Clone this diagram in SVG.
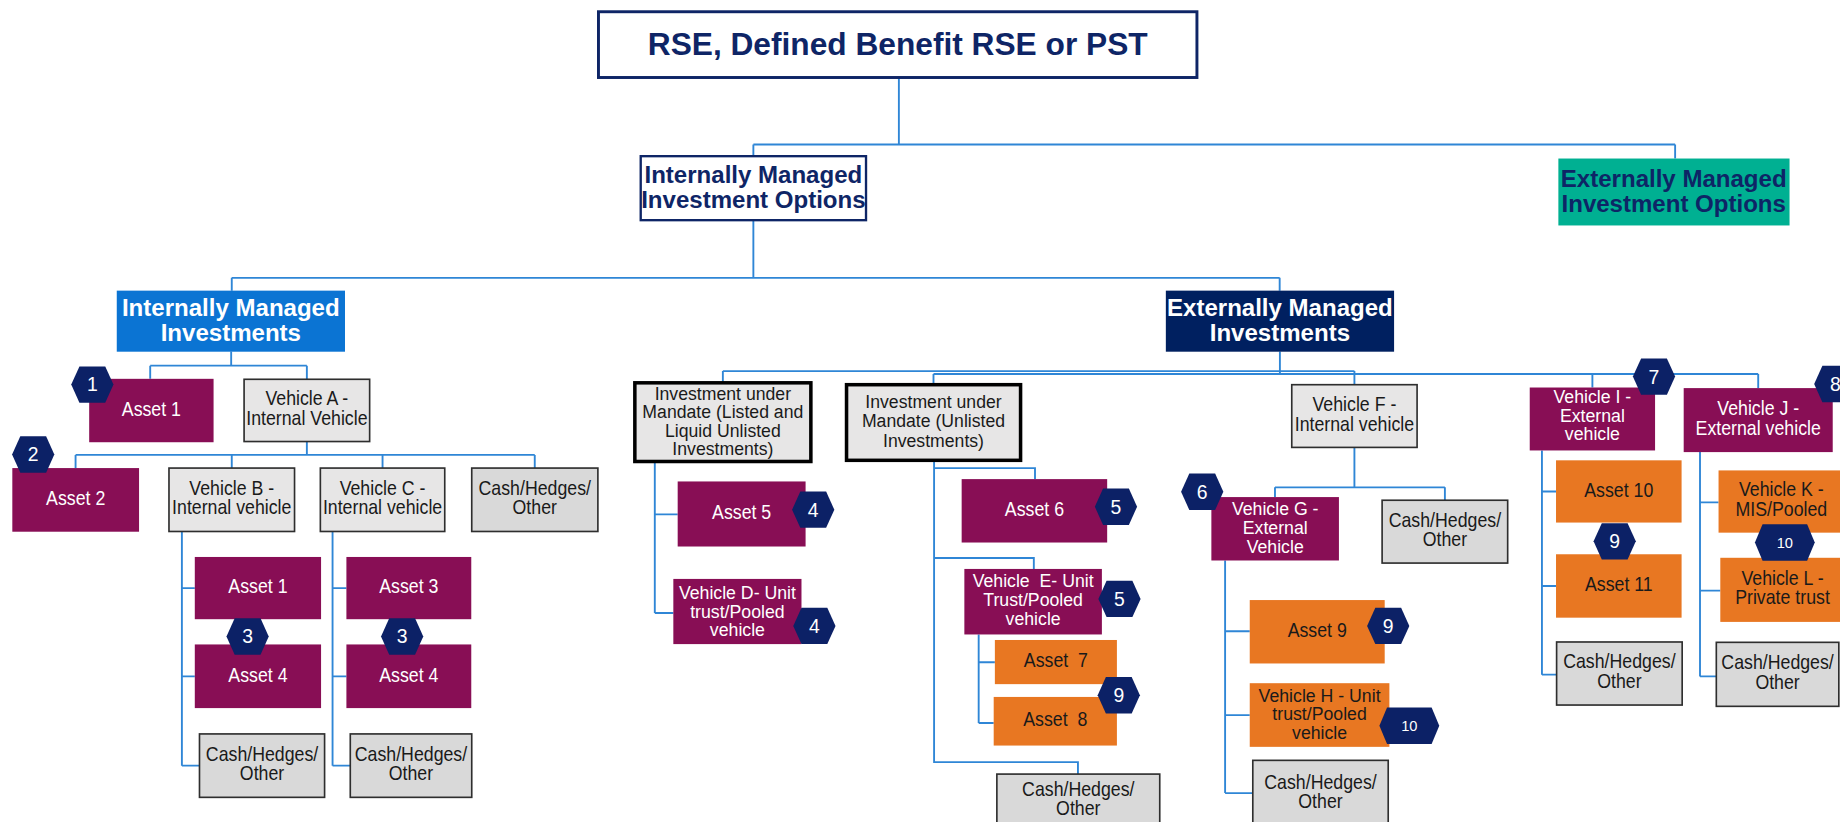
<svg xmlns="http://www.w3.org/2000/svg" xmlns:xlink="http://www.w3.org/1999/xlink" width="1840" height="822" viewBox="0 0 1840 822">
<style>
text{font-family:"Liberation Sans",Arial,sans-serif}
.c{fill:none;stroke:#2F86D6;stroke-width:1.6}
.pu{fill:#880E55}
.or{fill:#E87722}
.gy{fill:#E7E6E6;stroke:#2e2e2e;stroke-width:1.4}
.cs{fill:#D9D9D9;stroke:#2e2e2e;stroke-width:1.4}
.md{fill:#E7E6E6;stroke:#000;stroke-width:3}
.t{font-size:17px;fill:#1a1a1a;text-anchor:middle}
.t3{font-size:15.8px}
.w{fill:#fff}
.b{font-weight:bold;font-size:20.5px;text-anchor:middle}
.nv{fill:#0E2566}
.hx{fill:#0C2166}
.hn{font-size:16.5px;fill:#fff;text-anchor:middle}
.hs{font-size:12.5px;fill:#fff;text-anchor:middle}
</style>
<defs>
<polygon id="hex" class="hx" points="-18,0 -11,-15.5 11,-15.5 18,0 11,15.5 -11,15.5"/>
<polygon id="hexw" class="hx" points="-25.5,0 -19,-15.5 19,-15.5 25.5,0 19,15.5 -19,15.5"/>
</defs>
<rect width="1840" height="822" fill="#fff"/>
<g transform="scale(1.173469 1.174286)">
<g id="connectors">
<path class="c" d="M766,66.2V123M642,123H1427.5M642,123V132.7M1427.5,123V135"/>
<path class="c" d="M642,187.5V236.6M197.5,236.6H1090.5M197.5,236.6V247.5M1090.5,236.6V247.5"/>
<path class="c" d="M197,299.3V311.4M128,311.4H261.5M128,311.4V322.6M261.5,311.4V323"/>
<path class="c" d="M261.5,376V387.4M64.4,387.4H455.7M64.4,387.4V398.6M197.5,387.4V398.6M326,387.4V398.6M455.7,387.4V398.6"/>
<path class="c" d="M155,452.6V652M155,500.8H166M155,576H166M155,652H170"/>
<path class="c" d="M283.4,452.6V652M283.4,500.8H295.2M283.4,576H295.2M283.4,652H298.5"/>
<path class="c" d="M1090.7,299.3V318.5M616,316H1154.2M795.5,318.5H1498.3M616,316V326M795.5,318.5V327.6M1154.2,316V327.6M1357,318.5V330M1498.3,318.5V330.5"/>
<path class="c" d="M558,393V522M558,438H577.5M558,522H573.8"/>
<path class="c" d="M796,392V649H918.6V659.2M796,398.6H882V408M796,475.2H881V484.5"/>
<path class="c" d="M834,540.3V615.7M834,564H847.8M834,615.7H846.8"/>
<path class="c" d="M1154.2,381V415M1086.5,415H1231.3M1086.5,415V423.3M1231.3,415V426"/>
<path class="c" d="M1044,477.3V675.4M1044,537.6H1065M1044,609H1065M1044,675.4H1067.6"/>
<path class="c" d="M1314,383.6V574.5M1314,418.5H1326M1314,499H1326M1314,574.5H1326.5"/>
<path class="c" d="M1448.7,385V576M1448.7,427.8H1464.5M1448.7,503H1466M1448.7,576H1462.6"/>
</g>
<g id="n-root"><rect x="510" y="10" width="510" height="56" fill="#fff" stroke="#0E2566" stroke-width="2.5"/><text class="b nv" style="font-size:27px" x="765" y="47">RSE, Defined Benefit RSE or PST</text></g>
<g id="n-imo"><rect x="546" y="133" width="192" height="54.5" fill="#fff" stroke="#0E2566" stroke-width="2"/><text class="b nv"><tspan x="642" y="155.6">Internally Managed</tspan><tspan x="642" y="176.8">Investment Options</tspan></text></g>
<g id="n-emo"><rect x="1328" y="135" width="197" height="57" fill="#00B092"/><text class="b nv"><tspan x="1426.3" y="159">Externally Managed</tspan><tspan x="1426.3" y="180.2">Investment Options</tspan></text></g>
<g id="n-imi"><rect x="99.5" y="247.5" width="194.5" height="52" fill="#0B74D3"/><text class="b w"><tspan x="196.7" y="269">Internally Managed</tspan><tspan x="196.7" y="290.2">Investments</tspan></text></g>
<g id="n-emi"><rect x="993.5" y="247.5" width="194.5" height="52" fill="#002060"/><text class="b w"><tspan x="1090.7" y="269">Externally Managed</tspan><tspan x="1090.7" y="290.2">Investments</tspan></text></g>

<g id="n-asset1"><rect class="pu" x="76" y="322.6" width="106" height="54"/><text class="t w" transform="translate(129 0) scale(.89 1)"><tspan x="0" y="354">Asset 1</tspan></text></g>
<g id="n-vehA"><rect class="gy" x="208" y="323" width="107" height="53"/><text class="t" transform="translate(261.5 0) scale(.89 1)"><tspan x="0" y="345.2">Vehicle A -</tspan><tspan x="0" y="361.7">Internal Vehicle</tspan></text></g>
<g id="n-asset2"><rect class="pu" x="10.5" y="398.6" width="108" height="54.2"/><text class="t w" transform="translate(64.5 0) scale(.89 1)"><tspan x="0" y="430.2">Asset 2</tspan></text></g>
<g id="n-vehB"><rect class="gy" x="144" y="398.6" width="107" height="54"/><text class="t" transform="translate(197.5 0) scale(.89 1)"><tspan x="0" y="421.3">Vehicle B -</tspan><tspan x="0" y="438">Internal vehicle</tspan></text></g>
<g id="n-vehC"><rect class="gy" x="273" y="398.6" width="106" height="54"/><text class="t" transform="translate(326 0) scale(.89 1)"><tspan x="0" y="421.3">Vehicle C -</tspan><tspan x="0" y="438">Internal vehicle</tspan></text></g>
<g id="n-cashA"><rect class="cs" x="402" y="398.6" width="107.5" height="54"/><text class="t" transform="translate(455.7 0) scale(.89 1)"><tspan x="0" y="421.3">Cash/Hedges/</tspan><tspan x="0" y="438">Other</tspan></text></g>
<g id="n-B-asset1"><rect class="pu" x="166" y="474.3" width="107.6" height="53"/><text class="t w" transform="translate(219.8 0) scale(.89 1)"><tspan x="0" y="505.3">Asset 1</tspan></text></g>
<g id="n-B-asset4"><rect class="pu" x="166" y="548.8" width="107.6" height="54.2"/><text class="t w" transform="translate(219.8 0) scale(.89 1)"><tspan x="0" y="580.4">Asset 4</tspan></text></g>
<g id="n-B-cash"><rect class="cs" x="170" y="625" width="106.6" height="54"/><text class="t" transform="translate(223.3 0) scale(.89 1)"><tspan x="0" y="647.7">Cash/Hedges/</tspan><tspan x="0" y="664.4">Other</tspan></text></g>
<g id="n-C-asset3"><rect class="pu" x="295.2" y="474.3" width="106.4" height="53"/><text class="t w" transform="translate(348.4 0) scale(.89 1)"><tspan x="0" y="505.3">Asset 3</tspan></text></g>
<g id="n-C-asset4"><rect class="pu" x="295.2" y="548.8" width="106.4" height="54.2"/><text class="t w" transform="translate(348.4 0) scale(.89 1)"><tspan x="0" y="580.4">Asset 4</tspan></text></g>
<g id="n-C-cash"><rect class="cs" x="298.5" y="625" width="103.5" height="54"/><text class="t" transform="translate(350.2 0) scale(.89 1)"><tspan x="0" y="647.7">Cash/Hedges/</tspan><tspan x="0" y="664.4">Other</tspan></text></g>

<g id="n-listed"><rect class="md" x="541" y="326" width="150" height="67"/><text class="t" style="font-size:15.2px" transform="translate(616 0) scale(.99 1)"><tspan x="0" y="340.3">Investment under</tspan><tspan x="0" y="356.2">Mandate (Listed and</tspan><tspan x="0" y="371.9">Liquid Unlisted</tspan><tspan x="0" y="387.4">Investments)</tspan></text></g>
<g id="n-unlisted"><rect class="md" x="721.4" y="327.6" width="148.3" height="64.4"/><text class="t" style="font-size:16px" transform="translate(795.5 0) scale(.94 1)"><tspan x="0" y="347.7">Investment under</tspan><tspan x="0" y="364">Mandate (Unlisted</tspan><tspan x="0" y="380.3">Investments)</tspan></text></g>
<g id="n-asset5"><rect class="pu" x="577.5" y="410" width="109" height="55.4"/><text class="t w" transform="translate(632 0) scale(.89 1)"><tspan x="0" y="442.2">Asset 5</tspan></text></g>
<g id="n-vehD"><rect class="pu" x="573.8" y="493" width="109.2" height="55.5"/><text class="t t3 w" transform="translate(628.4 0) scale(.955 1)"><tspan x="0" y="510">Vehicle D- Unit</tspan><tspan x="0" y="526">trust/Pooled</tspan><tspan x="0" y="542">vehicle</tspan></text></g>
<g id="n-asset6"><rect class="pu" x="819.5" y="408" width="124" height="54"/><text class="t w" transform="translate(881.5 0) scale(.89 1)"><tspan x="0" y="439.5">Asset 6</tspan></text></g>
<g id="n-vehE"><rect class="pu" x="821.8" y="484.5" width="117.2" height="55.8"/><text class="t t3 w" xml:space="preserve" transform="translate(880.4 0) scale(.955 1)"><tspan x="0" y="499.9">Vehicle  E- Unit</tspan><tspan x="0" y="515.9">Trust/Pooled</tspan><tspan x="0" y="531.9">vehicle</tspan></text></g>
<g id="n-asset7"><rect class="or" x="847.8" y="545" width="104" height="37.6"/><text class="t" xml:space="preserve" transform="translate(899.8 0) scale(.89 1)"><tspan x="0" y="568">Asset  7</tspan></text></g>
<g id="n-asset8"><rect class="or" x="846.8" y="593.5" width="105" height="41.4"/><text class="t" xml:space="preserve" transform="translate(899.3 0) scale(.89 1)"><tspan x="0" y="618.6">Asset  8</tspan></text></g>
<g id="n-U-cash"><rect class="cs" x="849.5" y="659.2" width="138.8" height="46"/><text class="t" transform="translate(918.9 0) scale(.89 1)"><tspan x="0" y="677.5">Cash/Hedges/</tspan><tspan x="0" y="693.7">Other</tspan></text></g>

<g id="n-vehF"><rect class="gy" x="1100.8" y="327.6" width="106.8" height="53.4"/><text class="t" transform="translate(1154.2 0) scale(.89 1)"><tspan x="0" y="350">Vehicle F -</tspan><tspan x="0" y="366.7">Internal vehicle</tspan></text></g>
<g id="n-vehG"><rect class="pu" x="1032.3" y="423.3" width="108.7" height="54"/><text class="t t3 w" transform="translate(1086.7 0) scale(.955 1)"><tspan x="0" y="438.9">Vehicle G -</tspan><tspan x="0" y="454.9">External</tspan><tspan x="0" y="470.9">Vehicle</tspan></text></g>
<g id="n-F-cash"><rect class="cs" x="1177.8" y="426" width="107" height="53.5"/><text class="t" transform="translate(1231.3 0) scale(.89 1)"><tspan x="0" y="448.4">Cash/Hedges/</tspan><tspan x="0" y="465.1">Other</tspan></text></g>
<g id="n-asset9"><rect class="or" x="1065" y="511" width="115" height="54"/><text class="t" transform="translate(1122.5 0) scale(.89 1)"><tspan x="0" y="542.5">Asset 9</tspan></text></g>
<g id="n-vehH"><rect class="or" x="1065" y="581.8" width="119" height="54.2"/><text class="t t3" transform="translate(1124.5 0) scale(.955 1)"><tspan x="0" y="597.4">Vehicle H - Unit</tspan><tspan x="0" y="613.4">trust/Pooled</tspan><tspan x="0" y="629.4">vehicle</tspan></text></g>
<g id="n-G-cash"><rect class="cs" x="1067.6" y="647.5" width="115.4" height="55"/><text class="t" transform="translate(1125.3 0) scale(.89 1)"><tspan x="0" y="671.5">Cash/Hedges/</tspan><tspan x="0" y="688.2">Other</tspan></text></g>

<g id="n-vehI"><rect class="pu" x="1303.6" y="330" width="106.8" height="53.6"/><text class="t t3 w" transform="translate(1357 0) scale(.955 1)"><tspan x="0" y="343">Vehicle I -</tspan><tspan x="0" y="359">External</tspan><tspan x="0" y="375">vehicle</tspan></text></g>
<g id="n-asset10"><rect class="or" x="1326" y="392" width="107" height="53"/><text class="t" transform="translate(1379.5 0) scale(.89 1)"><tspan x="0" y="423">Asset 10</tspan></text></g>
<g id="n-asset11"><rect class="or" x="1326" y="472" width="107" height="54"/><text class="t" transform="translate(1379.5 0) scale(.89 1)"><tspan x="0" y="503.5">Asset 11</tspan></text></g>
<g id="n-I-cash"><rect class="cs" x="1326.5" y="546.7" width="107" height="53.7"/><text class="t" transform="translate(1380 0) scale(.89 1)"><tspan x="0" y="569.2">Cash/Hedges/</tspan><tspan x="0" y="585.9">Other</tspan></text></g>
<g id="n-vehJ"><rect class="pu" x="1434.8" y="330.5" width="127" height="54.5"/><text class="t w" transform="translate(1498.3 0) scale(.89 1)"><tspan x="0" y="353.5">Vehicle J -</tspan><tspan x="0" y="370.2">External vehicle</tspan></text></g>
<g id="n-vehK"><rect class="or" x="1464.5" y="400.6" width="107" height="53"/><text class="t" transform="translate(1518 0) scale(.89 1)"><tspan x="0" y="422.7">Vehicle K -</tspan><tspan x="0" y="439.5">MIS/Pooled</tspan></text></g>
<g id="n-vehL"><rect class="or" x="1466" y="475" width="106" height="54.6"/><text class="t" transform="translate(1519 0) scale(.89 1)"><tspan x="0" y="498">Vehicle L -</tspan><tspan x="0" y="514.7">Private trust</tspan></text></g>
<g id="n-J-cash"><rect class="cs" x="1462.6" y="547" width="104.4" height="54.5"/><text class="t" transform="translate(1514.8 0) scale(.89 1)"><tspan x="0" y="570">Cash/Hedges/</tspan><tspan x="0" y="586.7">Other</tspan></text></g>

<g id="badge-1"><use href="#hex" xlink:href="#hex" x="78.7" y="327.5"/><text class="hn" x="78.7" y="333.4">1</text></g>
<g id="badge-2"><use href="#hex" xlink:href="#hex" x="28.3" y="387"/><text class="hn" x="28.3" y="392.9">2</text></g>
<g id="badge-3a"><use href="#hex" xlink:href="#hex" x="211" y="542"/><text class="hn" x="211" y="547.9">3</text></g>
<g id="badge-3b"><use href="#hex" xlink:href="#hex" x="342.7" y="542"/><text class="hn" x="342.7" y="547.9">3</text></g>
<g id="badge-4a"><use href="#hex" xlink:href="#hex" x="693" y="434"/><text class="hn" x="693" y="439.9">4</text></g>
<g id="badge-4b"><use href="#hex" xlink:href="#hex" x="694" y="533"/><text class="hn" x="694" y="538.9">4</text></g>
<g id="badge-5a"><use href="#hex" xlink:href="#hex" x="951" y="431.5"/><text class="hn" x="951" y="437.4">5</text></g>
<g id="badge-5b"><use href="#hex" xlink:href="#hex" x="954" y="510"/><text class="hn" x="954" y="515.9">5</text></g>
<g id="badge-9a"><use href="#hex" xlink:href="#hex" x="953.4" y="592"/><text class="hn" x="953.4" y="597.9">9</text></g>
<g id="badge-6"><use href="#hex" xlink:href="#hex" x="1024.5" y="418.8"/><text class="hn" x="1024.5" y="424.7">6</text></g>
<g id="badge-9b"><use href="#hex" xlink:href="#hex" x="1183" y="533"/><text class="hn" x="1183" y="538.9">9</text></g>
<g id="badge-10a"><use href="#hexw" xlink:href="#hexw" x="1201" y="618"/><text class="hs" x="1201" y="622.5">10</text></g>
<g id="badge-7"><use href="#hex" xlink:href="#hex" x="1409.5" y="320.7"/><text class="hn" x="1409.5" y="326.6">7</text></g>
<g id="badge-9c"><use href="#hex" xlink:href="#hex" x="1376" y="461"/><text class="hn" x="1376" y="466.9">9</text></g>
<g id="badge-8"><use href="#hex" xlink:href="#hex" x="1564" y="327"/><text class="hn" x="1564" y="332.9">8</text></g>
<g id="badge-10b"><use href="#hexw" xlink:href="#hexw" x="1521" y="462"/><text class="hs" x="1521" y="466.5">10</text></g>
</g>
</svg>
